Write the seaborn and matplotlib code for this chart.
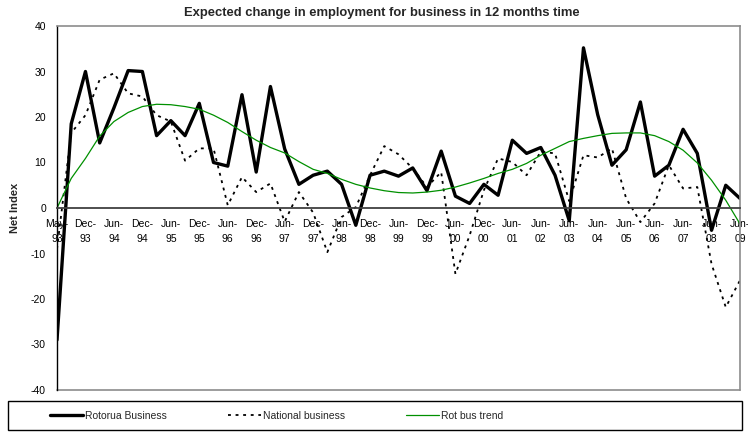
import numpy as np
import pandas as pd
import seaborn as sns
import matplotlib as mpl
import matplotlib.pyplot as plt
from matplotlib import font_manager
from matplotlib.patches import Rectangle

# tick labels (one every second category)
tick_labels = ["May-93", "Dec-93", "Jun-94", "Dec-94", "Jun-95", "Dec-95", "Jun-96", "Dec-96",
               "Jun-97", "Dec-97", "Jun-98", "Dec-98", "Jun-99", "Dec-99", "Jun-00", "Dec-00",
               "Jun-01", "Jun-02", "Jun-03", "Jun-04", "Jun-05", "Jun-06", "Jun-07", "Jun-08", "Jun-09"]

rotorua = [-29, 18.5, 30, 14.3, 22, 30.2, 30, 15.9, 19.2, 15.9, 23, 10, 9.2, 24.9, 7.9, 26.7,
           13, 5.2, 7.2, 8.1, 5.2, -3.8, 7.2, 8.1, 7, 8.8, 3.8, 12.5, 2.6, 1.0, 5.2, 2.8,
           14.9, 12, 13.3, 7.2, -2.8, 35.2, 20.5, 9.4, 12.8, 23.3, 7, 9.4, 17.3, 12, -4.9, 5, 2.1]

national = [-9, 16.5, 20.4, 28.2, 29.6, 25.2, 24.5, 20.4, 19, 10.4, 13.1, 13.1, 0.6, 6.8, 3.5, 5.4,
            -3, 3.5, -1, -9.7, -2, 0.2, 7.2, 13.6, 11.8, 8.7, 4.6, 7.9, -14.5, -6, 3.9, 10.9,
            10.1, 7.2, 12.4, 12, 1.5, 11.6, 11.1, 13.1, 2.1, -3.1, 1, 9.4, 4.3, 4.6, -12.3, -21.8, -15.9]

trend = [0, 6.5, 10.9, 15.8, 19, 21, 22.3, 22.8, 22.7, 22.3, 21.7, 20.4, 18.8, 16.8, 14.9, 13.3,
         12.1, 10.2, 8.5, 7.6, 6.3, 5.2, 4.4, 3.8, 3.4, 3.3, 3.5, 3.9, 4.6, 5.5, 6.5, 7.6,
         8.5, 9.8, 11.6, 13.1, 14.6, 15.3, 15.9, 16.4, 16.5, 16.5, 15.9, 14.6, 12.7, 9.9, 6.1, 1.7, -3.5]

series_names = ["Rotorua Business", "National business", "Rot bus trend"]

sns.set_theme(style="white")
names = {f.name for f in font_manager.fontManager.ttflist}
if "Liberation Sans Narrow" in names:
    base = "Liberation Sans Narrow"
    fs, tfs, colsp = 8.2, 10.5, 7.6
else:
    base = "Liberation Sans"
    fs, tfs, colsp = 7.5, 9.4, 5.8
mpl.rcParams["font.family"] = [base, "DejaVu Sans"]

W, H = 748, 432
fig = plt.figure(figsize=(W / 100, H / 100), dpi=100)
ax = fig.add_axes([57 / W, 42 / H, 683 / W, 364 / H])

n = len(rotorua)
d = pd.DataFrame({"idx": np.arange(n), "rot": rotorua, "nat": national, "trend": trend})

sns.lineplot(data=d, x="idx", y="rot", ax=ax, color="black", lw=2.4, label=series_names[0])
sns.lineplot(data=d, x="idx", y="nat", ax=ax, color="black", lw=1.3,
             linestyle=(0, (1.6, 2.6)), label=series_names[1])
sns.lineplot(data=d, x="idx", y="trend", ax=ax, color="#009000", lw=0.9, label=series_names[2])

# spines first (moving a spine resets its ticks)
ax.spines["bottom"].set_position(("data", 0))
ax.spines["bottom"].set_color("#404040")
ax.spines["bottom"].set_linewidth(1.3)
ax.spines["left"].set_color("black")
ax.spines["left"].set_linewidth(1.0)
for s in ["top", "right"]:
    ax.spines[s].set_color("#8c8c8c")
    ax.spines[s].set_linewidth(1.2)
ax.axhline(-40, color="#8c8c8c", lw=1.2, clip_on=False, zorder=0)

ax.set_xlim(0, n - 1)
ax.set_ylim(-40, 40)
ax.set_yticks(np.arange(-40, 41, 10))
ax.set_yticklabels([str(v) for v in range(-40, 41, 10)])

xt_labels = []
for i in range(n):
    if i % 2 == 0:
        xt_labels.append(tick_labels[i // 2].replace("-", "-\n"))
    else:
        xt_labels.append("")
ax.set_xticks(np.arange(n))
ax.set_xticklabels(xt_labels, linespacing=1.55)

ax.tick_params(axis="x", direction="inout", length=7, width=1, color="#404040", pad=4.5,
               labelsize=fs, labelcolor="black")
ax.tick_params(axis="y", direction="inout", length=8, width=1, color="black", pad=4,
               labelsize=fs, labelcolor="black")
ax.set_xlabel("")
ax.set_ylabel("")

fig.text(15 / W, 1 - 208 / H, "Net Index", rotation=90, ha="center", va="center",
         fontsize=fs + 0.5, fontweight="bold")
fig.text(382 / W, 1 - 13 / H, "Expected change in employment for business in 12 months time",
         ha="center", va="center", fontsize=tfs, fontweight="bold")

handles, labels = ax.get_legend_handles_labels()
ax.get_legend().remove()
fig.add_artist(Rectangle((8 / W, 2 / H), 734 / W, 29 / H, transform=fig.transFigure,
                         fill=False, ec="black", lw=1.0))
fig.legend(handles, labels, loc="center left", bbox_to_anchor=(50 / W, 1 - 416 / H), ncol=3,
           frameon=False, borderpad=0, borderaxespad=0, handlelength=3.2, handletextpad=0.2,
           columnspacing=colsp, fontsize=fs)

fig.savefig("out.png", dpi=100)
